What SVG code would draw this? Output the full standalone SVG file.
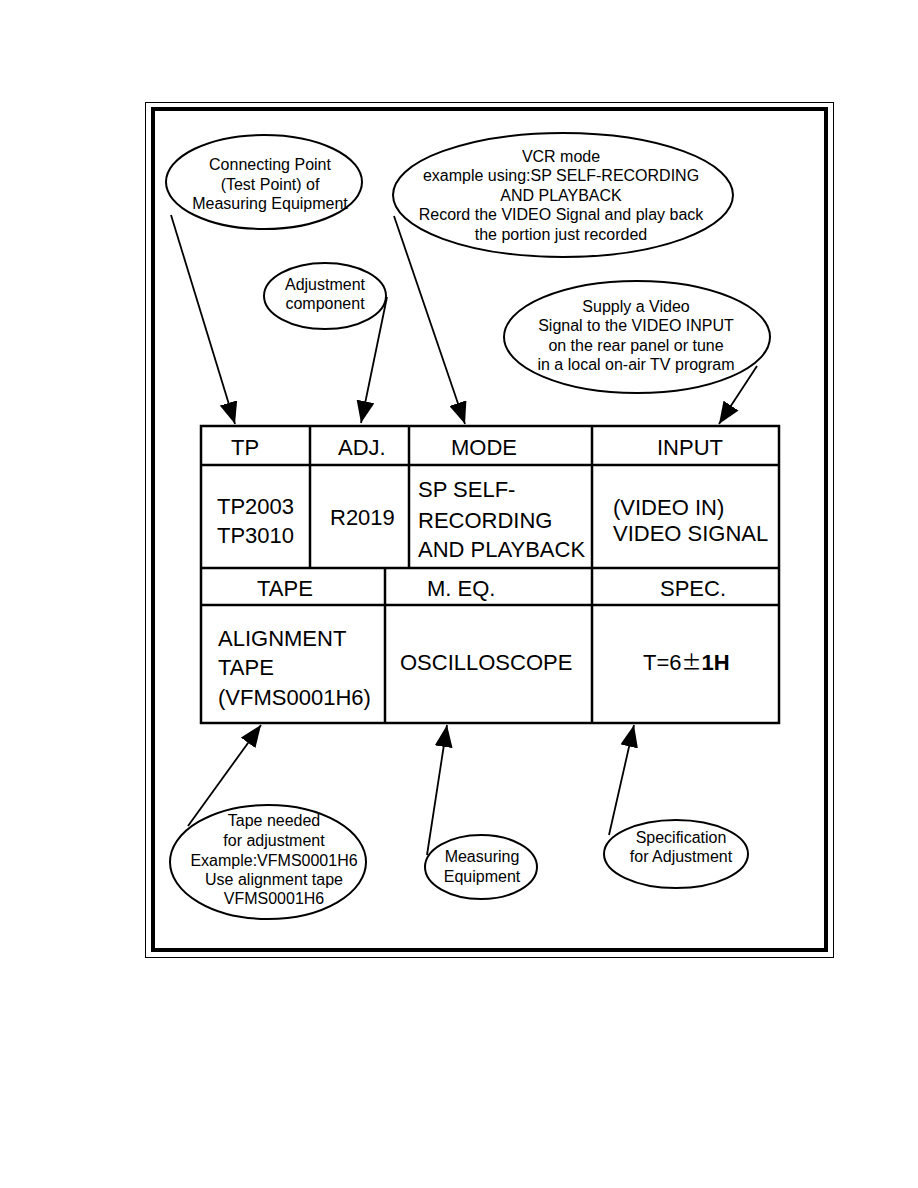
<svg xmlns="http://www.w3.org/2000/svg" width="918" height="1188" viewBox="0 0 918 1188">
<style>
.cl{font-family:"Liberation Sans",Arial,sans-serif;font-size:16px;fill:#000;text-anchor:middle}
.tb{font-family:"Liberation Sans",Arial,sans-serif;font-size:22px;fill:#000}
.el{fill:#fff;stroke:#000;stroke-width:2}
.ln{stroke:#000;stroke-width:1.8;fill:none}
.gr{stroke:#000;stroke-width:2.5;fill:none}
</style>
<defs>
<marker id="ah" markerUnits="userSpaceOnUse" markerWidth="24" markerHeight="18" refX="22" refY="9" orient="auto">
<path d="M0,0 L22,9 L0,18 Z" fill="#000"/>
</marker>
</defs>
<rect x="0" y="0" width="918" height="1188" fill="#fff"/>
<g id="frame">
<rect x="145.5" y="102.5" width="688" height="855" fill="none" stroke="#000" stroke-width="1"/>
<rect x="153" y="109" width="673" height="841" fill="none" stroke="#000" stroke-width="4"/>
</g>
<g id="connectors">
<line class="ln" x1="171" y1="215" x2="235" y2="424" marker-end="url(#ah)"/>
<line class="ln" x1="387" y1="297" x2="361" y2="423" marker-end="url(#ah)"/>
<line class="ln" x1="394" y1="216" x2="465" y2="424" marker-end="url(#ah)"/>
<line class="ln" x1="757" y1="366" x2="719" y2="424" marker-end="url(#ah)"/>
<line class="ln" x1="188" y1="826" x2="261" y2="725" marker-end="url(#ah)"/>
<line class="ln" x1="427" y1="855" x2="447" y2="725" marker-end="url(#ah)"/>
<line class="ln" x1="609" y1="835" x2="634" y2="725" marker-end="url(#ah)"/>
</g>
<g id="n-tp">
<ellipse class="el" cx="264" cy="182" rx="98" ry="47"/>
<text class="cl" x="270" y="170">Connecting Point</text>
<text class="cl" x="270" y="190">(Test Point) of</text>
<text class="cl" x="270" y="209">Measuring Equipment</text>
</g>
<g id="n-vcr">
<ellipse class="el" cx="563" cy="195" rx="170" ry="62"/>
<text class="cl" x="561" y="162">VCR mode</text>
<text class="cl" x="561" y="181">example using:SP SELF-RECORDING</text>
<text class="cl" x="561" y="201">AND PLAYBACK</text>
<text class="cl" x="561" y="220">Record the VIDEO Signal and play back</text>
<text class="cl" x="561" y="240">the portion just recorded</text>
</g>
<g id="n-adj">
<ellipse class="el" cx="325" cy="296" rx="61" ry="33"/>
<text class="cl" x="325" y="290">Adjustment</text>
<text class="cl" x="325" y="309">component</text>
</g>
<g id="n-input">
<ellipse class="el" cx="637" cy="337" rx="133" ry="56"/>
<text class="cl" x="636" y="312">Supply a Video</text>
<text class="cl" x="636" y="331">Signal to the VIDEO INPUT</text>
<text class="cl" x="636" y="351">on the rear panel or tune</text>
<text class="cl" x="636" y="370">in a local on-air TV program</text>
</g>
<g id="table">
<rect class="gr" x="201" y="426" width="578" height="297"/>
<line class="gr" x1="201" y1="465" x2="779" y2="465"/>
<line class="gr" x1="201" y1="568" x2="779" y2="568"/>
<line class="gr" x1="201" y1="605" x2="779" y2="605"/>
<line class="gr" x1="310" y1="426" x2="310" y2="568"/>
<line class="gr" x1="409" y1="426" x2="409" y2="568"/>
<line class="gr" x1="592" y1="426" x2="592" y2="723"/>
<line class="gr" x1="385" y1="568" x2="385" y2="723"/>
<text class="tb" x="231" y="455">TP</text>
<text class="tb" x="338" y="455">ADJ.</text>
<text class="tb" x="451" y="455">MODE</text>
<text class="tb" x="657" y="455">INPUT</text>
<text class="tb" x="217" y="514">TP2003</text>
<text class="tb" x="217" y="543">TP3010</text>
<text class="tb" x="330" y="525">R2019</text>
<text class="tb" x="418" y="497">SP SELF-</text>
<text class="tb" x="418" y="528">RECORDING</text>
<text class="tb" x="418" y="557">AND PLAYBACK</text>
<text class="tb" x="613" y="515">(VIDEO IN)</text>
<text class="tb" x="613" y="541">VIDEO SIGNAL</text>
<text class="tb" x="257" y="596">TAPE</text>
<text class="tb" x="427" y="596">M. EQ.</text>
<text class="tb" x="660" y="596">SPEC.</text>
<text class="tb" x="218" y="646">ALIGNMENT</text>
<text class="tb" x="218" y="675">TAPE</text>
<text class="tb" x="218" y="705">(VFMS0001H6)</text>
<text class="tb" x="400" y="670">OSCILLOSCOPE</text>
<text class="tb" x="643" y="670">T=6<tspan font-family="'Noto Sans CJK JP',sans-serif" font-size="20">±</tspan><tspan font-weight="bold">1H</tspan></text>
</g>
<g id="n-tape">
<ellipse class="el" cx="268" cy="862" rx="98" ry="57"/>
<text class="cl" x="274" y="826">Tape needed</text>
<text class="cl" x="274" y="846">for adjustment</text>
<text class="cl" x="274" y="866">Example:VFMS0001H6</text>
<text class="cl" x="274" y="885">Use alignment tape</text>
<text class="cl" x="274" y="904">VFMS0001H6</text>
</g>
<g id="n-meq">
<ellipse class="el" cx="481" cy="867" rx="56" ry="32"/>
<text class="cl" x="482" y="862">Measuring</text>
<text class="cl" x="482" y="882">Equipment</text>
</g>
<g id="n-spec">
<ellipse class="el" cx="676" cy="854" rx="72" ry="34"/>
<text class="cl" x="681" y="843">Specification</text>
<text class="cl" x="681" y="862">for Adjustment</text>
</g>
</svg>
